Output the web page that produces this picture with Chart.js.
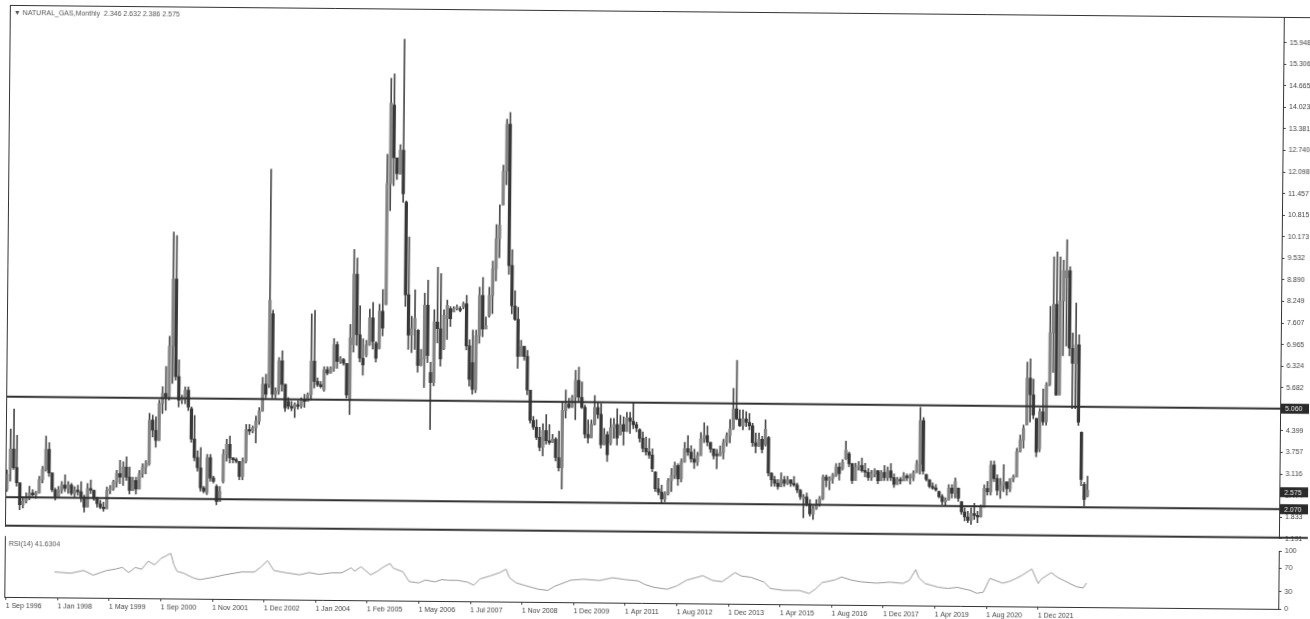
<!DOCTYPE html>
<html><head><meta charset="utf-8">
<script src="https://cdn.jsdelivr.net/npm/chart.js@4.4.0/dist/chart.umd.min.js"></script>
<style>
html,body{margin:0;padding:0;background:#fff;overflow:hidden;}
#wrap{position:relative;width:1310px;height:619px;transform:translateY(3px) rotate(0.54deg);transform-origin:655px 310px;background:#fff;}
#main{position:absolute;left:0;top:0;}
#rsi{position:absolute;left:0;top:535px;}
</style></head><body>
<div id="wrap">
<canvas id="main" width="1310" height="537"></canvas>
<canvas id="rsi" width="1310" height="84"></canvas>
</div>
<script>
// ---- data (monthly OHLC bars, index order) ----
const opens = [
2.30,2.90,3.50,2.95,2.50,1.85,1.95,2.05,2.20,2.15,2.20,2.60,2.90,3.50,2.80,2.30,
2.10,2.30,2.45,2.35,2.45,2.20,2.30,2.25,2.10,1.80,2.35,2.30,2.05,1.90,1.80,1.75,
2.30,2.35,2.55,2.80,2.70,3.00,2.70,2.30,2.60,2.35,2.80,3.00,3.10,4.40,4.10,3.80,
4.90,5.20,5.10,6.60,8.60,5.70,5.00,5.05,5.30,4.75,3.85,3.30,3.00,2.40,2.25,3.30,
2.70,2.45,2.00,2.60,3.40,3.70,3.30,3.25,3.20,2.75,3.20,4.15,4.10,4.20,4.40,4.70,
5.50,5.50,7.60,5.20,5.30,6.20,5.50,5.00,4.85,4.80,4.90,4.85,5.05,5.00,5.20,6.20,
5.60,5.50,5.35,5.95,5.85,6.00,6.70,6.20,6.25,6.14,5.10,6.70,8.80,7.00,6.30,6.40,
6.70,7.50,6.75,6.60,7.70,7.90,11.50,13.84,12.27,11.80,12.50,10.95,8.20,7.00,7.20,7.15,
6.10,6.30,7.90,5.90,5.60,7.40,7.20,6.60,7.50,7.80,7.70,7.80,7.80,7.85,7.95,6.70,
6.20,5.40,7.00,8.20,7.20,7.60,8.20,9.00,9.90,10.90,11.90,13.30,9.10,7.90,7.50,6.40,
6.70,6.40,5.40,4.50,4.30,4.00,3.70,4.20,3.90,3.85,3.95,3.40,3.10,4.80,5.00,4.90,
5.20,5.70,5.20,4.90,4.10,4.00,4.40,4.90,4.70,3.80,4.10,3.85,4.30,4.40,4.10,4.40,
4.20,4.60,4.50,4.40,4.25,4.00,3.70,3.60,3.50,3.00,2.50,2.40,2.20,2.35,2.75,2.90,
3.20,2.80,3.30,3.70,3.60,3.40,3.30,3.50,4.00,4.10,3.90,3.70,3.55,3.50,3.60,3.90,
4.10,4.30,4.90,4.60,4.40,4.60,4.50,4.40,3.90,3.80,4.00,3.85,4.05,3.00,2.80,2.70,
2.60,2.80,2.70,2.80,2.70,2.65,2.50,2.25,2.30,2.10,1.80,1.95,2.10,2.25,2.90,2.80,
2.85,2.95,3.20,3.15,3.45,3.60,3.30,2.80,3.20,3.25,3.10,3.05,2.90,3.00,3.10,2.80,
3.05,2.90,3.10,2.90,2.70,2.85,2.80,2.95,2.90,2.90,3.05,3.30,4.60,3.00,2.85,2.65,
2.60,2.50,2.35,2.20,2.25,2.60,2.45,2.60,2.20,1.90,1.75,1.65,1.85,1.80,1.75,2.05,
2.60,2.50,3.30,2.90,2.55,2.70,2.80,2.60,2.90,2.95,3.70,4.05,4.50,5.90,5.40,4.70,
3.80,4.90,4.60,5.70,7.25,8.10,5.40,8.20,8.90,9.10,6.80,6.35,6.90,4.30,2.75,2.40];
const highs = [
2.88,4.10,4.69,3.91,2.50,2.04,2.20,2.40,2.30,2.25,2.70,3.00,3.90,3.70,2.80,2.35,
2.40,2.55,2.75,2.55,2.50,2.40,2.45,2.55,2.15,2.50,2.60,2.30,2.10,2.00,1.95,2.40,
2.45,2.60,2.90,3.20,3.15,3.30,3.00,2.70,2.70,2.90,3.10,3.20,4.60,4.55,4.50,5.00,
5.40,6.00,6.90,10.00,9.90,6.20,5.15,5.40,5.40,4.80,4.55,3.50,3.60,2.45,3.40,3.40,
2.75,2.50,2.45,3.55,3.85,3.95,3.30,3.30,3.20,3.30,4.30,4.30,4.25,4.55,4.80,5.70,
5.80,11.90,7.70,5.40,6.30,6.50,5.50,5.11,5.00,4.96,5.01,5.11,5.21,5.26,7.61,7.71,
5.70,5.60,6.04,6.04,6.04,6.88,6.78,6.34,6.29,6.14,7.30,9.53,9.28,7.86,6.88,6.83,
7.76,7.96,6.80,7.91,8.35,12.37,14.63,14.77,12.27,12.66,15.80,10.99,9.92,7.56,8.35,7.17,
6.58,8.25,8.64,6.20,7.76,9.03,8.84,7.76,8.05,7.86,7.86,7.91,7.86,8.00,8.20,6.88,
7.17,7.17,8.45,8.74,7.56,8.45,9.23,10.31,10.90,12.08,13.45,13.65,9.57,8.35,7.86,6.88,
6.70,6.58,5.40,4.62,4.52,4.30,4.40,4.68,4.38,4.09,3.99,4.19,5.07,5.41,5.17,5.26,
6.00,6.10,5.66,4.97,4.53,4.53,5.26,5.07,5.02,4.28,4.19,4.58,4.58,4.87,4.68,4.63,
4.77,4.77,5.07,4.48,4.28,4.19,4.04,3.99,3.69,3.01,2.81,2.61,2.42,2.81,3.11,3.30,
3.25,3.40,3.89,4.09,3.79,3.69,3.60,4.19,4.48,4.38,3.90,3.70,3.69,3.79,3.99,4.19,
4.58,5.51,6.34,4.87,4.87,4.82,4.77,4.48,4.19,4.19,4.09,4.58,4.09,3.01,2.91,2.81,
3.01,2.91,2.91,2.81,2.91,2.71,2.52,2.37,2.42,2.22,2.03,2.22,2.32,2.96,2.96,2.91,
3.01,3.30,3.32,3.42,3.97,3.65,3.32,3.32,3.37,3.47,3.32,3.16,3.11,3.16,3.11,3.11,
3.26,3.21,3.32,3.01,2.91,2.91,3.06,3.01,3.01,3.11,3.42,5.00,4.69,3.01,2.85,2.76,
2.71,2.51,2.41,2.31,2.71,2.71,2.91,2.61,2.21,2.02,1.92,2.02,2.16,1.92,2.11,2.71,
2.81,3.42,3.42,3.01,2.91,3.32,2.81,2.91,3.01,3.81,4.20,4.50,6.37,6.47,5.87,4.70,
5.00,5.58,5.77,8.04,9.51,9.66,9.51,9.41,10.02,9.22,7.25,8.14,7.20,4.31,2.81,3.00];
const lows = [
2.24,2.55,2.90,2.40,1.70,1.75,1.90,2.00,2.10,2.04,2.20,2.50,2.85,2.70,2.24,2.00,
2.10,2.20,2.25,2.20,2.15,2.10,2.15,1.95,1.65,1.80,2.20,2.00,1.80,1.75,1.68,1.75,
2.20,2.30,2.40,2.50,2.45,2.60,2.20,2.30,2.20,2.35,2.70,2.80,3.05,3.90,3.60,3.80,
4.60,4.70,5.00,5.50,5.60,4.80,4.90,4.90,4.70,3.75,3.20,2.90,2.30,2.25,2.20,2.60,
2.55,1.90,2.00,2.55,3.20,3.15,3.15,3.15,2.65,2.65,3.15,4.00,4.05,3.75,4.30,4.70,
5.10,5.40,5.10,5.10,5.20,5.30,4.70,4.77,4.72,4.52,4.77,4.80,4.82,5.00,5.05,5.40,
5.45,5.40,5.31,5.80,5.85,5.90,5.99,6.14,6.09,5.11,4.62,6.48,6.68,6.19,5.80,6.34,
6.68,6.58,6.19,6.58,6.97,7.90,10.70,11.44,11.63,11.78,10.95,7.86,6.58,6.48,6.58,5.90,
6.09,5.45,6.19,4.20,5.50,6.78,6.09,6.58,6.88,7.27,7.71,7.76,7.71,7.80,6.58,5.50,
5.26,5.31,6.78,6.97,7.20,7.56,7.66,8.64,9.33,10.90,11.50,8.84,7.66,7.47,6.04,6.40,
6.29,5.26,4.42,4.23,3.93,3.60,3.45,3.80,3.79,3.85,3.30,3.00,2.47,4.58,4.87,4.90,
4.53,5.07,4.87,3.99,3.84,3.99,4.38,4.58,3.69,3.79,3.30,3.79,3.99,3.79,4.09,3.79,
4.19,4.14,4.28,4.19,3.89,3.60,3.50,3.40,3.01,2.42,2.32,2.07,2.12,2.32,2.42,2.81,
2.61,2.71,3.30,3.50,3.30,3.11,3.20,3.50,3.89,3.79,3.60,3.40,3.11,3.50,3.40,3.79,
3.89,4.28,4.58,4.38,4.28,4.38,4.28,3.79,3.60,3.79,3.60,3.80,2.91,2.61,2.61,2.52,
2.60,2.61,2.66,2.61,2.61,2.42,2.22,1.68,2.03,1.73,1.63,1.93,2.03,2.22,2.61,2.52,
2.71,2.91,2.81,3.11,3.42,3.21,2.71,2.80,3.11,3.05,2.91,2.81,2.81,2.91,2.71,2.80,
2.81,2.81,2.81,2.61,2.70,2.71,2.80,2.81,2.71,2.81,3.05,3.01,3.01,2.81,2.61,2.56,
2.51,2.31,2.11,2.06,2.25,2.31,2.31,2.21,1.83,1.63,1.58,1.53,1.68,1.58,1.75,2.05,
2.41,2.41,2.81,2.41,2.31,2.51,2.41,2.51,2.81,2.95,3.70,3.81,4.50,4.59,4.69,3.56,
3.71,4.50,4.50,5.67,6.07,5.39,5.40,6.57,6.86,6.57,5.00,5.00,4.50,2.71,2.11,2.38];
const closes = [
2.75,3.50,2.95,2.50,1.85,1.95,2.05,2.20,2.15,2.20,2.60,2.90,3.50,2.80,2.30,2.10,
2.30,2.45,2.35,2.45,2.20,2.30,2.25,2.10,1.80,2.35,2.30,2.05,1.90,1.80,1.75,2.30,
2.35,2.55,2.80,2.70,3.00,2.70,2.30,2.60,2.35,2.80,3.00,3.10,4.40,4.10,3.80,4.90,
5.20,5.10,6.60,8.60,5.70,5.00,5.05,5.30,4.80,3.85,3.30,3.00,2.40,2.30,3.30,2.70,
2.60,2.00,2.30,3.40,3.70,3.30,3.25,3.20,2.75,3.20,4.15,4.10,4.20,4.40,4.70,5.50,
5.20,8.00,5.20,5.30,6.20,5.50,4.80,4.85,4.80,4.90,4.85,5.05,5.00,5.20,6.20,5.60,
5.50,5.45,5.95,5.85,6.00,6.70,6.20,6.30,6.15,5.20,6.90,8.80,7.00,6.30,6.10,6.70,
7.50,6.80,6.30,7.70,7.20,11.50,13.90,12.27,11.80,12.50,11.20,8.20,7.00,7.20,7.50,6.10,
6.30,7.90,6.40,5.60,7.40,7.20,6.30,7.60,7.90,7.50,7.80,7.85,7.75,7.95,6.70,5.70,
5.40,7.00,8.20,7.20,7.30,8.20,9.00,9.90,10.30,11.90,13.30,9.10,7.90,7.50,6.40,6.70,
6.40,5.40,4.50,4.30,4.00,3.70,4.20,3.90,3.85,3.95,3.40,3.10,4.80,5.00,4.90,5.20,
5.70,5.20,4.90,4.10,4.00,4.40,4.90,4.70,3.80,4.10,3.50,4.30,4.40,4.00,4.40,4.20,
4.60,4.50,4.40,4.30,4.00,3.70,3.60,3.50,3.10,2.50,2.40,2.20,2.35,2.75,2.90,3.20,
2.80,3.30,3.70,3.60,3.40,3.30,3.50,4.00,4.10,3.90,3.70,3.50,3.50,3.60,3.90,4.10,
4.30,4.90,4.60,4.40,4.60,4.50,4.40,3.90,3.80,4.00,3.70,4.30,3.00,2.80,2.70,2.60,
2.80,2.70,2.80,2.70,2.65,2.50,2.30,2.30,2.10,1.80,1.95,2.10,2.25,2.90,2.80,2.85,
2.95,3.20,3.00,3.35,3.70,3.30,2.80,3.20,3.25,3.10,3.05,2.90,3.00,3.10,2.80,3.05,
2.90,3.10,2.90,2.70,2.85,2.80,2.95,2.90,2.95,3.05,3.30,4.60,3.10,2.85,2.65,2.60,
2.55,2.35,2.20,2.25,2.60,2.45,2.80,2.30,1.90,1.75,1.65,1.85,1.80,1.75,2.05,2.60,
2.50,3.30,2.90,2.55,2.70,2.80,2.60,2.90,2.95,3.70,4.05,4.40,5.90,5.40,4.80,3.70,
4.90,4.60,5.70,7.25,8.10,5.40,8.20,9.10,9.10,6.80,6.35,6.90,4.60,2.90,2.30,2.58];

// RSI(14) line: bar index and value
const rsiIdx = [15,20,24,27,31,34,36,38,40,42,44,46,48,51,52,53,55,58,60,64,68,73,77,79,81,83,86,91,94,97,
101,104,107,108,110,113,115,117,119,120,123,125,128,130,133,135,137,140,143,145,147,150,153,155,156,158,161,165,168,
170,175,179,184,188,192,196,198,201,205,208,211,216,219,222,226,228,231,235,237,241,246,249,251,253,257,259,262,265,
270,274,278,280,282,283,285,289,292,295,299,301,303,305,309,311,313,315,318,320,321,324,326,330,332,334,335];
const rsiVal = [44,42,47,39,47,50,53,44,53,50,64,58,69,78,58,47,44,36,33,37,42,47,47,56,67,50,47,43,47,44,
47,47,56,50,58,44,50,58,64,56,50,33,31,36,33,37,36,36,33,28,39,44,50,56,42,33,28,22,20,
27,38,40,38,43,40,38,32,27,24,30,40,48,40,38,54,48,46,38,27,24,24,19,27,38,43,48,43,40,
38,40,38,43,62,48,38,32,30,32,27,22,24,48,40,43,48,54,65,40,48,59,51,40,35,33,41.6304];

// horizontal lines and price marker
const resistanceLevel = 5.060;
const supportLevel = 2.070;
const lastPrice = 2.575;

// axis ticks
const yTickVals = [1.191,1.833,2.474,3.116,3.757,4.399,5.041,5.682,6.324,6.965,7.607,8.249,8.890,9.532,
10.173,10.815,11.457,12.098,12.740,13.381,14.023,14.665,15.306,15.948];
const yTickLabels = ['1.191','1.833','2.474','3.116','3.757','4.399','5.041','5.682','6.324','6.965','7.607','8.249',
'8.890','9.532','10.173','10.815','11.457','12.098','12.740','13.381','14.023','14.665','15.306','15.948'];
const rsiTickVals = [0,30,70,100];
const rsiTickLabels = ['0','30','70','100'];
const xTickIdx = [0,16,32,48,64,80,96,112,128,144,160,176,192,208,224,240,256,272,288,304,320];
const xTickLabels = ['1 Sep 1996','1 Jan 1998','1 May 1999','1 Sep 2000','1 Nov 2001','1 Dec 2002','1 Jan 2004',
'1 Feb 2005','1 May 2006','1 Jul 2007','1 Nov 2008','1 Dec 2009','1 Apr 2011','1 Aug 2012','1 Dec 2013',
'1 Apr 2015','1 Aug 2016','1 Dec 2017','1 Apr 2019','1 Aug 2020','1 Dec 2021'];
const titleText = '\u25BC NATURAL_GAS,Monthly  2.346 2.632 2.386 2.575';
const rsiTitle = 'RSI(14) 41.6304';

// ---- chart building ----
const X_MIN = -0.5, X_MAX = 394.5;
const FONT = '"Liberation Sans", Arial, sans-serif';
const idx = opens.map((_, i) => i);
const wickData = idx.map(i => ({x: i, y: [lows[i], highs[i]]}));
const bodyData = idx.map(i => ({x: i, y: [Math.min(opens[i], closes[i]), Math.max(opens[i], closes[i])]}));
const bodyColors = idx.map(i => closes[i] >= opens[i] ? '#858585' : '#383838');
const hline = v => [{x: X_MIN, y: v}, {x: X_MAX, y: v}];

const mainFrame = {
  id: 'mainFrame',
  afterDatasetsDraw(chart) {
    const {ctx, chartArea: {left, top, right, bottom}} = chart;
    ctx.save();
    ctx.strokeStyle = '#333'; ctx.lineWidth = 1;
    ctx.beginPath();
    ctx.moveTo(left + 0.5, top); ctx.lineTo(left + 0.5, bottom);
    ctx.moveTo(left, top + 0.5); ctx.lineTo(chart.width, top + 0.5);
    ctx.stroke();
    ctx.lineWidth = 2;
    ctx.beginPath(); ctx.moveTo(left, bottom - 1); ctx.lineTo(chart.width, bottom - 1); ctx.stroke();
    ctx.fillStyle = '#555'; ctx.font = '7px ' + FONT; ctx.textBaseline = 'middle'; ctx.textAlign = 'left';
    ctx.fillText(titleText, left + 4, top + 8);
    const ys = chart.scales.y;
    [resistanceLevel, lastPrice, supportLevel].forEach(v => {
      const y = ys.getPixelForValue(v);
      ctx.fillStyle = '#2a2a2a';
      ctx.fillRect(right + 1, y - 5, chart.width - right, 10);
      ctx.fillStyle = '#e8e8e8';
      ctx.fillText(v.toFixed(3), right + 5, y + 0.5);
    });
    ctx.restore();
  }
};

new Chart(document.getElementById('main'), {
  type: 'bar',
  data: {
    datasets: [
      {type: 'line', data: hline(resistanceLevel), borderColor: '#303030', borderWidth: 2, pointRadius: 0, order: 0},
      {type: 'line', data: hline(supportLevel), borderColor: '#303030', borderWidth: 2, pointRadius: 0, order: 0},
      {data: bodyData, backgroundColor: bodyColors, borderWidth: 0, barThickness: 2.6, grouped: false, minBarLength: 1, order: 1},
      {data: wickData, backgroundColor: '#4a4a4a', borderWidth: 0, barThickness: 1, grouped: false, order: 2}
    ]
  },
  options: {
    responsive: false, animation: false, devicePixelRatio: 1,
    layout: {padding: {left: 7, top: 8, right: 0, bottom: 2}},
    plugins: {legend: {display: false}, tooltip: {enabled: false}},
    scales: {
      x: {type: 'linear', min: X_MIN, max: X_MAX, offset: false, display: false},
      y: {
        type: 'linear', position: 'right', min: 1.191, max: 16.71,
        afterFit: s => { s.width = 29; },
        afterBuildTicks: s => { s.ticks = yTickVals.map(v => ({value: v})); },
        ticks: {autoSkip: false, padding: 3, color: '#444', font: {family: FONT, size: 7},
                callback: (v, i) => yTickLabels[i]},
        grid: {drawOnChartArea: false, drawTicks: true, tickLength: 3, color: '#444'},
        border: {display: true, color: '#333', width: 1}
      }
    }
  },
  plugins: [mainFrame]
});

const rsiFrame = {
  id: 'rsiFrame',
  afterDatasetsDraw(chart) {
    const {ctx, chartArea: {left, top, bottom}} = chart;
    ctx.save();
    ctx.strokeStyle = '#333'; ctx.lineWidth = 1;
    ctx.beginPath(); ctx.moveTo(left + 0.5, top - 3); ctx.lineTo(left + 0.5, bottom); ctx.stroke();
    ctx.fillStyle = '#555'; ctx.font = '7px ' + FONT; ctx.textBaseline = 'middle'; ctx.textAlign = 'left';
    ctx.fillText(rsiTitle, left + 4, top + 5);
    ctx.restore();
  }
};

new Chart(document.getElementById('rsi'), {
  type: 'line',
  data: {
    datasets: [{
      data: rsiIdx.map((x, i) => ({x: x, y: rsiVal[i]})),
      borderColor: '#999999', borderWidth: 1, pointRadius: 0, tension: 0
    }]
  },
  options: {
    responsive: false, animation: false, devicePixelRatio: 1,
    layout: {padding: {left: 7, top: 3, right: 0, bottom: 0}},
    plugins: {legend: {display: false}, tooltip: {enabled: false}},
    scales: {
      x: {
        type: 'linear', min: X_MIN, max: X_MAX, offset: false,
        afterFit: s => { s.height = 19; },
        afterBuildTicks: s => { s.ticks = xTickIdx.map(v => ({value: v})); },
        ticks: {autoSkip: false, maxRotation: 0, align: 'start', padding: 2, color: '#444',
                font: {family: FONT, size: 7}, callback: (v, i) => xTickLabels[i]},
        grid: {drawOnChartArea: false, drawTicks: true, tickLength: 3, color: '#444'},
        border: {display: true, color: '#333', width: 1}
      },
      y: {
        type: 'linear', position: 'right', min: 0, max: 100,
        afterFit: s => { s.width = 29; },
        afterBuildTicks: s => { s.ticks = rsiTickVals.map(v => ({value: v})); },
        ticks: {autoSkip: false, padding: 3, color: '#444', font: {family: FONT, size: 7},
                callback: (v, i) => rsiTickLabels[i]},
        grid: {drawOnChartArea: false, drawTicks: true, tickLength: 3, color: '#444'},
        border: {display: true, color: '#333', width: 1}
      }
    }
  },
  plugins: [rsiFrame]
});
</script>
</body></html>
